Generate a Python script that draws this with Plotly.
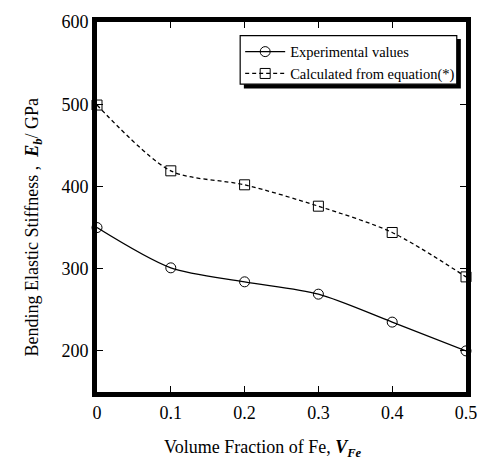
import plotly.graph_objects as go

# Volume fraction of Fe and measured / calculated bending stiffness (GPa)
v_fe = [0, 0.1, 0.2, 0.3, 0.4, 0.5]
experimental = [350, 301, 284, 269, 235, 200]
calculated = [499, 419, 402, 376, 344, 290]

x_ticks = [0, 0.1, 0.2, 0.3, 0.4, 0.5]
x_tick_text = ["0", "0.1", "0.2", "0.3", "0.4", "0.5"]
y_ticks = [200, 300, 400, 500, 600]
x_range = [0, 0.5]
y_range = [150, 600]

x_title = "Volume Fraction of Fe, <b><i>V</i></b><sub><b><i>Fe</i></b></sub>"
y_title = "Bending Elastic Stiffness ,  <b><i>E</i></b><sub><b><i>b</i></b></sub>/ GPa"

FONT = "Liberation Serif"

fig = go.Figure()
fig.add_trace(go.Scatter(
    x=v_fe, y=experimental, mode="lines+markers", name="Experimental values",
    line=dict(color="black", width=1.3, shape="spline", smoothing=0.8),
    marker=dict(symbol="circle-open", size=10, color="black", line=dict(width=1)),
    cliponaxis=False,
))
# second series sits on the overlay axes that carry the top / right ticks
fig.add_trace(go.Scatter(
    x=v_fe, y=calculated, mode="lines+markers", name="Calculated from equation(*)",
    xaxis="x2", yaxis="y2",
    line=dict(color="black", width=1.3, dash="4px,3px", shape="spline", smoothing=0.8),
    marker=dict(symbol="square-open", size=10, color="black", line=dict(width=1)),
    cliponaxis=False,
))

tick_style = dict(ticks="inside", ticklen=6, tickwidth=1, tickcolor="black",
                  showgrid=False, zeroline=False)

fig.update_layout(
    xaxis=dict(range=x_range, tickvals=x_ticks, ticktext=x_tick_text,
               showline=True, linecolor="black", linewidth=5, mirror=True,
               tickfont=dict(family=FONT, size=18, color="black"), **tick_style),
    yaxis=dict(range=y_range, tickvals=y_ticks,
               showline=True, linecolor="black", linewidth=5, mirror=True,
               tickfont=dict(family=FONT, size=18, color="black"), **tick_style),
    xaxis2=dict(range=x_range, tickvals=x_ticks, overlaying="x", side="top",
                anchor="y2", showticklabels=False, showline=False, **tick_style),
    yaxis2=dict(range=y_range, tickvals=y_ticks, overlaying="y", side="right",
                anchor="x2", showticklabels=False, showline=False, **tick_style),
)

# axis titles
fig.add_annotation(text=x_title, xref="paper", yref="paper", x=0.45, y=-0.152,
                   xanchor="center", yanchor="middle", showarrow=False,
                   font=dict(family=FONT, size=18, color="black"))
fig.add_annotation(text=y_title, xref="paper", yref="paper", x=-0.173, y=0.445,
                   xanchor="center", yanchor="middle", textangle=-90, showarrow=False,
                   font=dict(family=FONT, size=18, color="black"))

# legend frame with its drop shadow
fig.add_shape(type="rect", xref="paper", yref="paper",
              x0=0.398, x1=0.986, y0=0.820, y1=0.954,
              fillcolor="black", line=dict(width=0), layer="below")
fig.add_shape(type="rect", xref="paper", yref="paper",
              x0=0.388, x1=0.975, y0=0.832, y1=0.963,
              fillcolor="white", line=dict(color="black", width=1.2), layer="below")

fig.update_layout(
    width=489, height=466,
    margin=dict(l=97, r=16, t=17, b=74),
    paper_bgcolor="white", plot_bgcolor="white",
    font=dict(family=FONT, color="black"),
    legend=dict(
        x=0.388, y=0.963, xanchor="left", yanchor="top",
        bgcolor="rgba(0,0,0,0)", borderwidth=0,
        font=dict(family=FONT, size=14.5, color="black"),
        tracegroupgap=0, itemwidth=40,
    ),
)

fig.write_html("out.html")
